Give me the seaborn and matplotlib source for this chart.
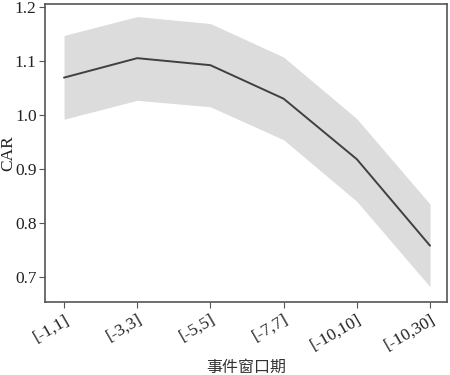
import matplotlib
matplotlib.use("Agg")
import matplotlib.pyplot as plt
import seaborn as sns
import pandas as pd

# event windows and CAR estimates
windows = ["[-1,1]", "[-3,3]", "[-5,5]", "[-7,7]", "[-10,10]", "[-10,30]"]
car_mean = [1.069, 1.105, 1.092, 1.030, 0.918, 0.758]
car_lower = [0.992, 1.027, 1.015, 0.954, 0.840, 0.682]
car_upper = [1.147, 1.182, 1.169, 1.107, 0.993, 0.835]

df = pd.DataFrame({"pos": range(len(windows)), "car": car_mean,
                   "lo": car_lower, "hi": car_upper})

sns.set_style("ticks")
plt.rcParams["font.family"] = ["Liberation Serif", "Noto Sans CJK SC"]

fig, ax = plt.subplots(figsize=(4.5, 3.75), dpi=100)
fig.subplots_adjust(left=0.1, right=0.993, top=0.989, bottom=0.195)

# shaded band + mean line
ax.fill_between(df["pos"], df["lo"], df["hi"], color="#dcdcdc", linewidth=0)
sns.lineplot(data=df, x="pos", y="car", ax=ax, color="#404040", linewidth=1.4)

ax.set_xlim(-0.26, 5.23)
ax.set_ylim(0.654, 1.205)
ax.set_xticks(df["pos"])
ax.set_xticklabels(windows, rotation=30, ha="right", rotation_mode="anchor",
                   fontsize=12.5, color="#222222")
ax.set_yticks([0.7, 0.8, 0.9, 1.0, 1.1, 1.2])
ax.tick_params(axis="y", labelsize=12.5, labelcolor="#222222", pad=2)
ax.tick_params(axis="x", pad=3)
ax.tick_params(length=4, color="#555555")

ax.set_xlabel("事件窗口期", fontsize=11.5, family=["Noto Sans CJK SC"],
              color="#333333", labelpad=4)
ax.set_ylabel("CAR", fontsize=12.5, color="#222222")
ax.yaxis.set_label_coords(-0.072, 0.5)

for s in ax.spines.values():
    s.set_color("#555555")
    s.set_linewidth(1.2)

fig.savefig("out.png", dpi=100)
